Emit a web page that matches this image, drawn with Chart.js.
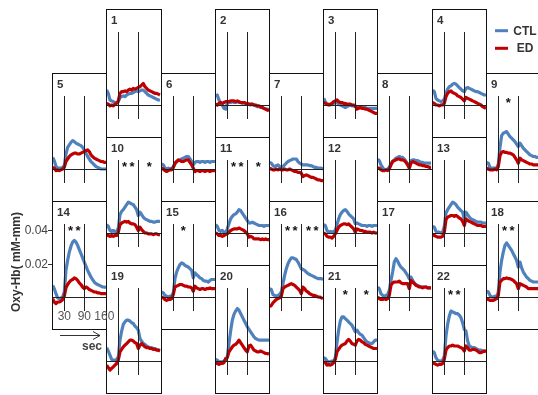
<!DOCTYPE html>
<html><head><meta charset="utf-8">
<script src="https://cdn.jsdelivr.net/npm/chart.js@4"></script>
<style>
html,body{margin:0;padding:0;background:#fff;width:538px;height:395px;overflow:hidden;position:relative;}
canvas{position:absolute;}
</style></head><body>
<script>
// time axis (s) and channel values, unit: 10^-3 mM·mm (oxy-Hb)
const seconds = [-5,0,5,10,15,20,25,30,35,40,45,50,55,60,65,70,75,80,85,90,95,100,105,110,115,120,125,130,135,140,145,150,155];
const ch1_CTL = [9,7,3,2.5,2,1.5,1.5,2, 4.5,5,5.5,5,6,6.5,7,7, 7.5,8,8.5,8,8.5,9,9,8, 7,6,5.5,5,4.5,4,3.5,3, 3];
const ch1_ED = [1,0.5,-0.5,0,-0.5,0.5,1,2.5, 7,8,8,8.5,8,9,9.5,9, 10,9.5,10,10.5,11,12,13,11, 10,9,8.5,8,7.5,7,7,6.5, 6];
const ch2_CTL = [5,6,3,1,0,-2,-2.5,1, 1.5,1.5,2,1.5,1.5,2,1.5,1.5, 1,1.5,1,0.5,0.5,0,0.5,0, -0.5,-1,-1,-1.5,-1.5,-2,-2.5,-2.5, -3];
const ch2_ED = [0.5,0,1,1.5,1,1.5,2,2, 2,2.5,2.5,2.5,2,2.5,2,1.5, 1.5,1.5,1,1,0.5,0.5,0.5,0, 0,-0.5,-0.5,-1,-1.5,-2,-2.5,-3, -3.5];
const ch3_CTL = [4,2,0.5,0.5,0,0.5,1,1.5, 1.5,0.5,0,-0.5,-1,-1.5,-1,-0.5, 0,-0.5,-0.5,-1,-1.5,-1.5,-1,-1.5, -1.5,-1.5,-2,-2,-2,-2,-2,-2, -2];
const ch3_ED = [1.5,1,0.5,0,0.5,1,2,2.5, 3,2,1.5,1.5,1,1,0.5,0.5, 0.5,0,0,-0.5,-2.5,-2,-1.5,-2, -2,-2.5,-2.5,-3,-3.5,-4,-4.5,-5, -5];
const ch4_CTL = [9,8,4,3,2.5,2,2.5,3.5, 7,9.5,11,11.5,12.5,13,12.5,11.5, 10.5,9.5,8.5,8,10,10.5,10,9.5, 9,8.5,8,8,7.5,7,6.5,6, 6];
const ch4_ED = [1.5,1,0,0,-0.5,0,0,1, 5,7,8,8.5,7.5,7,6.5,5.5, 5,4.5,3.5,2.5,4.5,4,3.5,3, 2.5,2,1.5,1,0.5,0,-1,-1.5, -2];
const ch5_CTL = [7,5,1.5,0.5,0.5,0.5,1,2, 9,13,14.5,16,17,16.5,15.5,15, 14.5,14,13,11.5,9.5,7.5,6,4.5, 3.5,2.5,1.5,1,0.5,0,0,0, 0];
const ch5_ED = [1,0.5,-1,-0.5,-1,-0.5,0,1, 4.5,6,7.5,8.5,9,9.5,9.5,9, 9,9.5,10,10.5,11,11.5,10.5,8.5, 7.5,6.5,6,5.5,5,4.5,4.5,4, 4];
const ch6_CTL = [3,2.5,0.5,0,0.5,0,0.5,1, 3,4.5,5,5.5,6,6.5,7,7.5, 7.5,6,4.5,2.5,4,4.5,4.5,4, 4.5,4.5,4,4.5,4.5,4,4.5,4.5, 4.5];
const ch6_ED = [0.5,0,-1,-1.5,-1,-0.5,-0.5,1, 3.5,4.5,5.5,5,4.5,4.5,5,5.5, 5.5,4,2.5,0.5,-1.5,-1,-1,-1.5, -1,-1,-1.5,-1,-1,-1.5,-1,-1, -1];
const ch7_CTL = [4,3.5,2,1.5,2,2.5,1.5,0.5, 1.5,2.5,3.5,4.5,5,5.5,6,6, 6,4.5,3.5,3,2.5,2.5,2.5,2.5, 2,2,1.5,1,1,0.5,0.5,0.5, 0];
const ch7_ED = [0.5,0,-0.5,-0.5,0,-0.5,0,-0.5, -0.5,0,-0.5,-0.5,0,-0.5,-1,-1.5, -1.5,-2,-2,-2.5,-4.5,-4,-3.5,-4, -4.5,-5,-5,-5.5,-6,-6.5,-6.5,-7, -7];
const ch8_CTL = [6,5,2.5,1,-0.5,-0.5,0,1, 3,4.5,5.5,6.5,7,7.5,7,7, 6,4.5,3,1.5,5,5.5,5.5,5, 5,4.5,4,4,3.5,3.5,3.5,3.5, 3.5];
const ch8_ED = [0.5,0.5,-0.5,-1,-1,-0.5,-1,0, 2.5,4.5,5,5.5,6,6,5.5,5.5, 5,4,2.5,0.5,3.5,4.5,4,3.5, 3,2.5,2.5,2,2,1.5,1.5,1, 1];
const ch9_CTL = [4,3.5,1,0.5,0.5,0.5,0.5,3, 13,20,21.5,22,22.5,21,19.5,18.5, 17.5,16.5,15,13.5,15.5,14,12.5,11.5, 10.5,9.5,8.5,8,7.5,7.5,7,7, 7];
const ch9_ED = [0.5,0,-0.5,-0.5,-0.5,0,-0.5,1.5, 8,10,10.5,10,10,9.5,9.5,9, 8.5,7,5.5,3.5,6.5,5.5,5,4.5, 4,3.5,3,3,2.5,2.5,2.5,2.5, 2.5];
const ch10_CTL = [5,4,1.5,1,1.5,1,0.5,3, 11,13,14,15.5,17,18.5,18,17.5, 17,15.5,14,10.5,12.5,11,9.5,8.5, 8,7.5,7,7,6.5,6.5,7,7, 7];
const ch10_ED = [-1,-1.5,-2,-1.5,-2,-1.5,-1.5,0.5, 5,6,6.5,7,6.5,7,6,5.5, 5.5,5,3.5,1.5,3.5,2,1,0, 0,-0.5,-0.5,-0.5,-1,-0.5,-0.5,-1, -1];
const ch11_CTL = [5,4,1.5,1,1.5,0.5,0,2.5, 5.5,8.5,10,11,11.5,12.5,14,13.5, 12,10.5,9,7.5,6,6,6.5,6, 5.5,5,4.5,4.5,4.5,4,4.5,4.5, 4.5];
const ch11_ED = [0,-0.5,-1.5,-1.5,-2,-1.5,-1,-0.5, 0.5,1.5,2,2.5,2.5,2.5,3,2.5, 2,1.5,0.5,-0.5,-2.5,-2,-2.5,-3.5, -3.5,-3.5,-3.5,-4,-3.5,-4,-3.5,-4, -4];
const ch12_CTL = [5,4.5,1.5,0.5,1,0.5,1,1.5, 5,8.5,11,12.5,13.5,14,13,11.5, 10.5,9.5,8.5,5.5,6,5.5,5,4.5, 4.5,4.5,4,4.5,4.5,4,4.5,4.5, 4.5];
const ch12_ED = [0,-0.5,-2,-2.5,-2.5,-3,-2,-0.5, 1.5,3.5,4.5,5,5.5,5.5,5,5.5, 4.5,3.5,2.5,0.5,2.5,2,1.5,1.5, 1,1,0.5,0.5,0.5,0,0.5,0, 0];
const ch13_CTL = [4,3.5,1,0.5,0.5,0,0.5,4, 12,14,15.5,17,18.5,18,17,15.5, 14.5,13.5,12.5,8.5,12.5,11,9.5,8.5, 8,7.5,7,6.5,6.5,6.5,6,6, 6];
const ch13_ED = [-1,-1.5,-2,-2.5,-2.5,-2.5,-2,0.5, 8,9.5,10,10.5,10.5,10,10.5,10, 9,8.5,7,4.5,8.5,7.5,7,6.5, 6,5.5,5,4.5,4.5,4.5,4,4, 4];
const ch14_CTL = [7,5,2,-0.5,-1,-0.5,0,3, 16,22,27,30.5,33,34,33,31, 28.5,26,23.5,21,18.5,16,14,12, 10.5,9,8,7.5,7,6.5,6,6, 5.5];
const ch14_ED = [-1,-3,-4,-3,-3,-2.5,-1.5,0.5, 5.5,7.5,9,10,10.5,11.5,11,10, 8.5,7.5,6,5,6,5.5,4.5,4, 3.5,3,3,2.5,2.5,2,2,2, 2];
const ch15_CTL = [3,2.5,1,0.5,0,0.5,0.5,2.5, 11,15,17.5,19.5,20.5,20,19,18.5, 18,17,16,11.5,14.5,13.5,12.5,11.5, 11,10,9.5,9.5,9,10,10.5,10.5, 10.5];
const ch15_ED = [0,-0.5,-1.5,-2,-1.5,-1.5,-1,1.5, 6,6.5,7,7.5,7.5,7,6.5,6.5, 6,6,5.5,3.5,6.5,5.5,5,4.5, 5,5,4.5,5,5,5.5,5,5, 5];
const ch16_CTL = [5,4.5,1.5,1,0.5,1,1.5,3, 8,13,17,20,22,23.5,23.5,23, 22.5,21,19,17,16.5,16,15,14, 13.5,13,12.5,12,11.5,11,11,11, 10.5];
const ch16_ED = [-6,-5,-3.5,-2.5,-1.5,-1,-0.5,0.5, 5,6,6.5,7,7.5,8,7.5,7, 6,5,4,2,6,5,3.5,3, 2,1.5,1,1,0.5,0,0,-0.5, -1];
const ch17_CTL = [6,5,2,1,0.5,1,1.5,4, 10,15,21,23,21.5,19.5,18,17, 16,14.5,13,11,12,10,8.5,7.5, 7,6.5,6,6,6,6,5.5,5.5, 5.5];
const ch17_ED = [0,-1,-1.5,-1.5,-1,-1.5,-1,1, 7,8.5,9,9,9,9.5,8.5,8, 8,8,8,5,10,9,8,7, 6.5,6,6,5.5,6,6,5.5,5.5, 5.5];
const ch18_CTL = [3.5,3,1,0,0,0.5,0,3, 15,22,27,31,32.5,31,29.5,28, 26,24,22,18,21,17.5,15,13.5, 12,11,10,9.5,9,9,9,9, 9];
const ch18_ED = [-1,-1.5,-2,-2,-2,-1.5,-1,1, 9,10,11,11,11.5,11,11,10.5, 10,9,8,5,8,7.5,7,6.5, 6,5,5,5,5,5,5,5, 5];
const ch19_CTL = [8,6,3.5,1,0.5,0.5,1,2.5, 12.5,18,22,23.5,24.5,24.5,24,23, 22.5,21,20,18.5,13.5,12,10.5,10, 9,8.5,8,8,7.5,7.5,7,6.5, 6.5];
const ch19_ED = [-2.5,-4,-5.5,-4.5,-3.5,-2.5,-1.5,0.5, 5.5,7,8.5,9.5,10.5,11.5,12.5,12.5, 12,11,10.5,7.5,9.5,10.5,9.5,8.5, 8,8,7.5,7.5,7,7,6.5,6.5, 6];
const ch20_CTL = [1,0.5,-0.5,-0.5,-0.5,0,0.5,2.5, 10.5,18,24.5,28,30,31.5,30.5,28.5, 26.5,24.5,22.5,20.5,19,17.5,16,14.5, 13.5,13,12.5,12.5,12.5,12.5,12.5,12.5, 12.5];
const ch20_ED = [-1,-1.5,-2,-1.5,-1.5,-1,1.5,2, 5.5,7,8.5,9.5,10,11,12.5,11, 9.5,8,6.5,5.5,9,9.5,8,6.5, 6,5.5,5.5,6,5.5,5,4.5,4.5, 4];
const ch21_CTL = [2,1.5,0,-0.5,-0.5,0,-0.5,2, 11,18.5,24,26.5,26.5,25.5,24.5,23.5, 22.5,21.5,19.5,17.5,18.5,17,16,15.5, 14,12.5,11.5,11,10.5,10.5,11.5,12.5, 12.5];
const ch21_ED = [-0.5,-1,-2.5,-2,-2.5,-2,-1,1, 5.5,7,8.5,9.5,10,10.5,12,13, 12,10.5,10,9.5,12,13,12.5,11.5, 11,10,9.5,9,8.5,8,7.5,7.5, 7.5];
const ch22_CTL = [6,5,2,0.5,0,0,0.5,3, 15,22,27,30,29.5,29,28.5,28.5, 27.5,26,23,19,18,12,9,8.5, 8,8,7.5,7,6.5,6.5,6,6, 6];
const ch22_ED = [-1,-1.5,-2,-2.5,-2,-2,-1.5,1, 6.5,8,9,9,9.5,9,9,9, 8.5,8,7.5,6,9,8,6.5,6.5, 7,7,6.5,6,5,5,5.5,6, 5.5];

const channelNames = ['1','2','3','4','5','6','7','8','9','10','11','12','13','14','15','16','17','18','19','20','21','22'];
// significance marks (task window 30-90 s, recovery window after 90 s)
const sigTask = ['','','','','','','','','*','**','**','','','**','*','**','','**','','','*','**'];
const sigPost = ['','','','','','','','','','*','*','','','','','**','','','','','*',''];
const stimMarks = [30, 90];          // s
const yTickValues = [20, 40];        // 10^-3 mM·mm -> 0.02, 0.04
const xTickLabels = ['30', '90', '160'];
const seriesNames = ['CTL', 'ED'];

const CTL = [ch1_CTL,ch2_CTL,ch3_CTL,ch4_CTL,ch5_CTL,ch6_CTL,ch7_CTL,ch8_CTL,ch9_CTL,ch10_CTL,ch11_CTL,ch12_CTL,ch13_CTL,ch14_CTL,ch15_CTL,ch16_CTL,ch17_CTL,ch18_CTL,ch19_CTL,ch20_CTL,ch21_CTL,ch22_CTL];
const ED = [ch1_ED,ch2_ED,ch3_ED,ch4_ED,ch5_ED,ch6_ED,ch7_ED,ch8_ED,ch9_ED,ch10_ED,ch11_ED,ch12_ED,ch13_ED,ch14_ED,ch15_ED,ch16_ED,ch17_ED,ch18_ED,ch19_ED,ch20_ED,ch21_ED,ch22_ED];

// ---- layout ----
const BLUE = '#4f81bd', RED = '#c00000';
const FONT = "Arial, 'Liberation Sans', sans-serif";
const COL_X = [52,106,161,215,269,323,377,432,486,541];
const ROW_Y = [9,73,137,201,265];
const PANEL_H = 129;
const GRID = [[1,0],[3,0],[5,0],[7,0],[0,1],[2,1],[4,1],[6,1],[8,1],[1,2],[3,2],[5,2],[7,2],[0,3],[2,3],[4,3],[6,3],[8,3],[1,4],[3,4],[5,4],[7,4]];
const SEC_PER_PX = 3, T30_OFFSET = 12.3, BASE_OFFSET = 96, UNIT_PX = 1.665;

function makeCanvas(l,t,w,h){
  const c=document.createElement('canvas');
  c.width=w; c.height=h;
  c.style.left=l+'px'; c.style.top=t+'px'; c.style.width=w+'px'; c.style.height=h+'px';
  document.body.appendChild(c); return c;
}
function drawStars(ctx, s, cx, by){
  const n=s.length;
  for(let k=0;k<n;k++) ctx.fillText('*', cx + (k-(n-1)/2)*7.5, by);
}
function panelPlugin(i, withAxes){
  return {
    id:'panel'+i,
    beforeDatasetsDraw(chart){
      const {ctx, chartArea:a} = chart;
      ctx.save(); ctx.fillStyle='#fff'; ctx.fillRect(a.left,a.top,a.right-a.left,a.bottom-a.top); ctx.restore();
    },
    afterDatasetsDraw(chart){
      const {ctx, chartArea:a, scales:{x,y}} = chart;
      ctx.save();
      ctx.strokeStyle='#222'; ctx.lineWidth=1;
      ctx.beginPath();
      const y0 = Math.round(y.getPixelForValue(0))+0.5;
      ctx.moveTo(a.left,y0); ctx.lineTo(a.right,y0);
      for (const t of stimMarks){
        const px=Math.round(x.getPixelForValue(t))+0.5;
        ctx.moveTo(px,a.top+23); ctx.lineTo(px,a.top+110);
      }
      ctx.stroke();
      ctx.strokeStyle='#111';
      ctx.strokeRect(a.left+0.5,a.top+0.5,a.right-a.left-1,a.bottom-a.top-1);
      ctx.fillStyle='#333'; ctx.font='bold 11.5px '+FONT; ctx.textBaseline='alphabetic'; ctx.textAlign='left';
      ctx.fillText(channelNames[i], a.left+5, a.top+14.5);
      ctx.fillStyle='#111'; ctx.font='bold 13px '+FONT; ctx.textAlign='center';
      drawStars(ctx, sigTask[i], x.getPixelForValue(60), a.top+34);
      drawStars(ctx, sigPost[i], x.getPixelForValue(123), a.top+34);
      if (withAxes){
        ctx.fillStyle='#444'; ctx.font='12px '+FONT; ctx.textAlign='right'; ctx.textBaseline='middle';
        ctx.strokeStyle='#333'; ctx.beginPath();
        for (const v of yTickValues){
          const py = Math.round(y.getPixelForValue(v))+0.5;
          ctx.moveTo(a.left-4,py); ctx.lineTo(a.left,py);
          ctx.fillText((v/1000).toFixed(2), a.left-4, py);
        }
        ctx.stroke();
        // x labels
        ctx.textAlign='center'; ctx.fillStyle='#555';
        const ly = a.top+116;
        ctx.fillText(xTickLabels[0], x.getPixelForValue(30), ly);
        ctx.fillText(xTickLabels[1], x.getPixelForValue(90), ly);
        ctx.textAlign='left';
        ctx.fillText(xTickLabels[2], x.getPixelForValue(90)+10, ly);
        // y title
        ctx.save();
        ctx.translate(17, a.top+61); ctx.rotate(-Math.PI/2);
        ctx.textAlign='center'; ctx.fillStyle='#333'; ctx.font='bold 12px '+FONT;
        ctx.fillText('Oxy-Hb( mM-mm)', 0, 0);
        ctx.restore();
        // arrow + sec
        const ay = a.bottom+5.5;
        ctx.strokeStyle='#333'; ctx.lineWidth=1; ctx.beginPath();
        ctx.moveTo(a.left+8, ay); ctx.lineTo(a.left+48, ay);
        ctx.moveTo(a.left+41, ay-4); ctx.lineTo(a.left+48, ay); ctx.lineTo(a.left+41, ay+4);
        ctx.stroke();
        ctx.fillStyle='#444'; ctx.font='bold 12px '+FONT; ctx.textAlign='center';
        ctx.fillText('sec', a.left+40, a.bottom+17);
      }
      ctx.restore();
    }
  };
}

function buildPanel(i){
  const [c, r] = GRID[i];
  const left = COL_X[c], w = COL_X[c+1]-COL_X[c]+1, top = ROW_Y[r];
  const withAxes = (i === 13);
  const pad = {left:0,right:0,top:0,bottom:0};
  let cl = left, cw = w, ch = PANEL_H;
  if (withAxes){ pad.left = left; cl = 0; pad.right = 54; cw = w + left + 54; pad.bottom = 65; ch = PANEL_H + 65; }
  const cv = makeCanvas(cl, top, cw, ch);
  const xmin = 30 - T30_OFFSET*SEC_PER_PX;
  new Chart(cv, {
    type:'line',
    data:{datasets:[
      {label:seriesNames[0], data: seconds.map((s,k)=>({x:s,y:CTL[i][k]})), borderColor:BLUE, borderWidth:3.2, pointRadius:0, order:2, clip:-1, borderJoinStyle:'round'},
      {label:seriesNames[1], data: seconds.map((s,k)=>({x:s,y:ED[i][k]})), borderColor:RED, borderWidth:3.2, pointRadius:0, order:1, clip:-1, borderJoinStyle:'round'}
    ]},
    options:{
      responsive:false, animation:false, events:[], devicePixelRatio:1,
      layout:{padding:pad},
      plugins:{legend:{display:false}, tooltip:{enabled:false}},
      scales:{
        x:{type:'linear', display:false, min:xmin, max:xmin + w*SEC_PER_PX},
        y:{type:'linear', display:false, min:-(PANEL_H-BASE_OFFSET)/UNIT_PX, max:BASE_OFFSET/UNIT_PX}
      }
    },
    plugins:[panelPlugin(i, withAxes)]
  });
}
for (let i=0;i<22;i++){ if (i!==13) buildPanel(i); }
buildPanel(13);

// legend
const lc = makeCanvas(486, 18, 52, 42);
new Chart(lc, {
  type:'line',
  data:{datasets:[{label:seriesNames[0], data:[], borderColor:BLUE},{label:seriesNames[1], data:[], borderColor:RED}]},
  options:{responsive:false, animation:false, events:[], devicePixelRatio:1,
    plugins:{legend:{display:false}, tooltip:{enabled:false}},
    scales:{x:{display:false}, y:{display:false}}},
  plugins:[{id:'lg', afterDraw(chart){
    const ctx = chart.ctx; ctx.save();
    chart.data.datasets.forEach((d,k)=>{
      const yy = 12.7 + k*17.6;
      ctx.strokeStyle=d.borderColor; ctx.lineWidth=3;
      ctx.beginPath(); ctx.moveTo(9,yy); ctx.lineTo(22,yy); ctx.stroke();
      ctx.fillStyle='#333'; ctx.font='bold 12px '+FONT; ctx.textAlign='center'; ctx.textBaseline='middle';
      ctx.fillText(d.label, 39, yy+0.5);
    });
    ctx.restore();
  }}]
});
</script>
</body></html>
